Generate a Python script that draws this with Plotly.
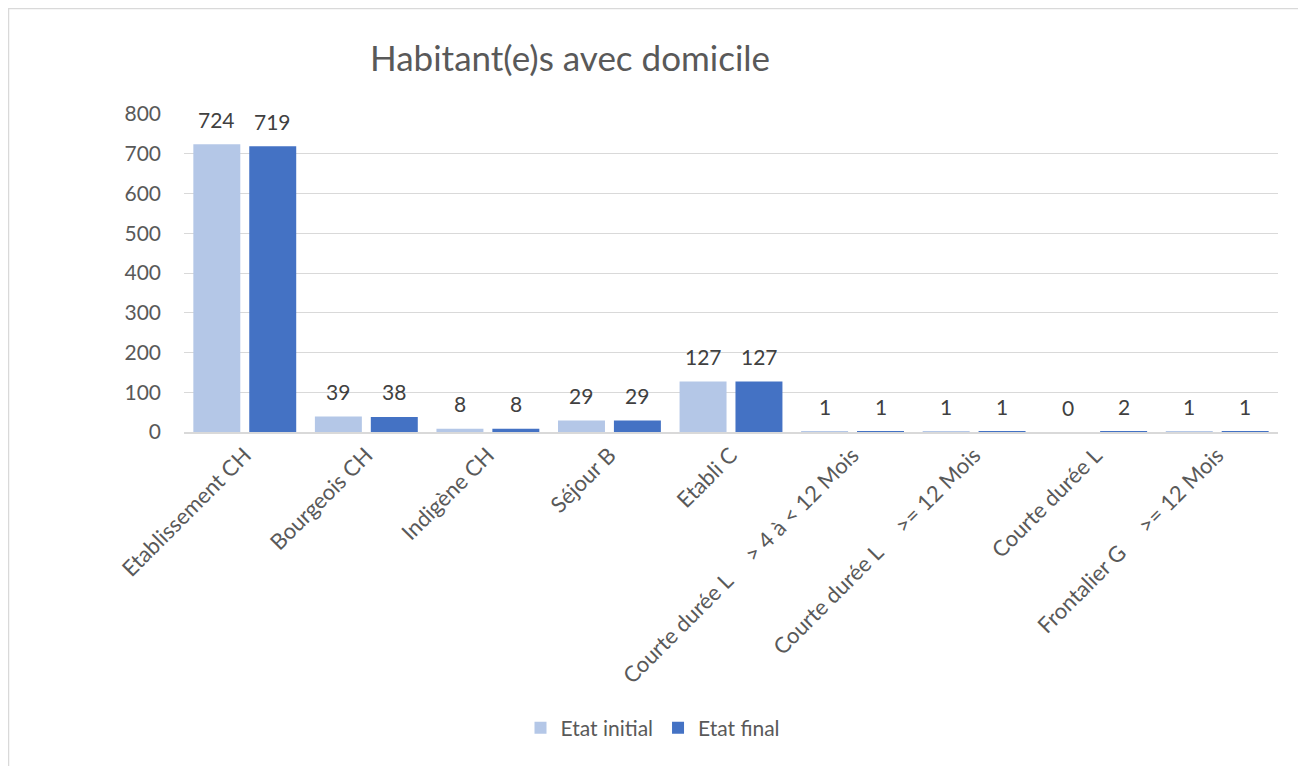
import plotly.graph_objects as go

# Data.
categories = [
    "Etablissement CH",
    "Bourgeois CH",
    "Indigène CH",
    "Séjour B",
    "Etabli C",
    "Courte durée L\u00a0\u00a0\u00a0\u00a0\u00a0> 4 à < 12 Mois",
    "Courte durée L\u00a0\u00a0\u00a0\u00a0\u00a0>= 12 Mois",
    "Courte durée L",
    "Frontalier G\u00a0\u00a0\u00a0\u00a0\u00a0>= 12 Mois",
]
etat_initial = [724, 39, 8, 29, 127, 1, 1, 0, 1]
etat_final = [719, 38, 8, 29, 127, 1, 1, 2, 1]
y_ticks = [0, 100, 200, 300, 400, 500, 600, 700, 800]

COLOR_INITIAL = "#B4C7E7"
COLOR_FINAL = "#4472C4"
TEXT = "#595959"
FONT = "Lato, 'Open Sans', sans-serif"

# The page body has an 8px margin, so screen coords are shifted by OFF.
OFF = 8
W, H = 1306 - OFF, 766 - OFF
ML, MR, MT, MB = 184 - OFF, 28, 114 - OFF, 334
PW, PH = W - ML - MR, H - MT - MB


def px_x(p):
    """Screen x pixel -> paper coordinate."""
    return (p - OFF - ML) / PW


def px_y(p):
    """Screen y pixel -> paper coordinate."""
    return (H - MB - (p - OFF)) / PH


fig = go.Figure()
series = [("Etat initial", etat_initial, COLOR_INITIAL, -28),
          ("Etat final", etat_final, COLOR_FINAL, 28)]
annotations = []
for name, vals, color, shift in series:
    fig.add_trace(go.Bar(x=categories, y=vals, name=name, marker_color=color,
                         marker_line_width=0))
    # Data labels sit a little higher above the bars than Plotly's "outside".
    for cat, v in zip(categories, vals):
        annotations.append(dict(x=cat, y=v, text=str(v), showarrow=False,
                                xshift=shift, yshift=25, yanchor="middle",
                                font=dict(size=21, color="#404040", family=FONT)))

annotations.append(dict(text="Habitant(e)s avec domicile", xref="paper", yref="paper",
                        x=px_x(570), y=px_y(57), xanchor="center", yanchor="middle",
                        showarrow=False, font=dict(size=35, color=TEXT, family=FONT)))

fig.update_layout(
    width=W, height=H,
    margin=dict(l=ML, r=MR, t=MT, b=MB, autoexpand=False),
    plot_bgcolor="white", paper_bgcolor="white",
    font=dict(family=FONT, color=TEXT, size=21),
    barmode="group", bargap=0.08, bargroupgap=0.16,
    showlegend=True,
    legend=dict(orientation="h", x=px_x(653), xanchor="center",
                y=px_y(728), yanchor="middle", font=dict(size=21, color=TEXT),
                itemsizing="constant", itemwidth=30, traceorder="normal"),
    annotations=annotations,
    shapes=[dict(type="rect", xref="paper", yref="paper",
                 x0=px_x(8.5), x1=px_x(1313), y0=px_y(773), y1=px_y(8.5),
                 line=dict(color="#D9D9D9", width=1.5), layer="below")],
)
fig.update_yaxes(range=[0, 800], tickvals=y_ticks, showgrid=True,
                 gridcolor="#D9D9D9", gridwidth=1, zeroline=False,
                 showline=False, ticks="", ticklabelstandoff=22,
                 tickfont=dict(size=21, color=TEXT))
fig.update_xaxes(tickangle=-45, showline=True, linecolor="#D9D9D9",
                 linewidth=1.5, ticks="", tickfont=dict(size=22, color=TEXT))

fig.write_html("out.html")
